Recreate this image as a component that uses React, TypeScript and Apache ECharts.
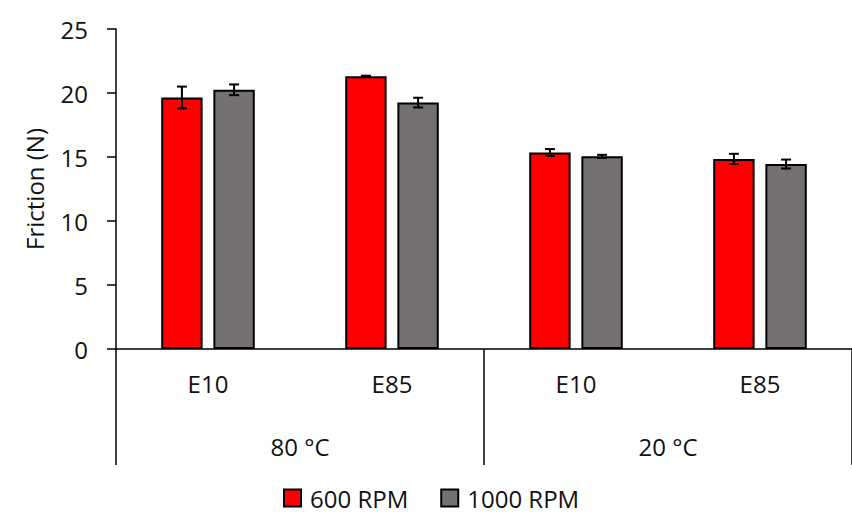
import React, { useEffect, useRef } from "react";
import * as echarts from "echarts";

const fuels = ["E10", "E85", "E10", "E85"];
const temps = ["80 °C", "20 °C"];
const rpm600 = [19.65, 21.3, 15.35, 14.85];
const rpm600Err = [0.85, 0.05, 0.27, 0.4];
const rpm1000 = [20.25, 19.25, 15.05, 14.45];
const rpm1000Err = [0.42, 0.38, 0.12, 0.35];
const seriesNames = ["600 RPM", "1000 RPM"];
const yTicks = { min: 0, max: 25, interval: 5 };

const FONT = "Open Sans";
const BAR_W = 0.225;
const BAR_GAP = 0.26;

function errSeries(values: number[], errs: number[], sign: number) {
  return {
    type: "custom",
    xAxisIndex: 0,
    yAxisIndex: 0,
    z: 10,
    silent: true,
    encode: { x: 0, y: 1 },
    data: values.map((v, i) => [i, v, errs[i]]),
    renderItem: (params: any, api: any) => {
      const x = api.value(0);
      const y = api.value(1);
      const e = api.value(2);
      const band = api.size([1, 0])[0];
      const bw = band * BAR_W;
      const off = ((bw * (1 + BAR_GAP)) / 2) * sign;
      const top = api.coord([x, y + e]);
      const bot = api.coord([x, y - e]);
      const cx = top[0] + off;
      const cap = 5;
      const st = { stroke: "#000", lineWidth: 2 };
      return {
        type: "group",
        children: [
          { type: "line", shape: { x1: cx, y1: top[1], x2: cx, y2: bot[1] }, style: st },
          { type: "line", shape: { x1: cx - cap, y1: top[1], x2: cx + cap, y2: top[1] }, style: st },
          { type: "line", shape: { x1: cx - cap, y1: bot[1], x2: cx + cap, y2: bot[1] }, style: st },
        ],
      };
    },
  };
}

export default function App() {
  const ref = useRef<HTMLDivElement>(null);
  useEffect(() => {
    if (!ref.current) return;
    const chart = echarts.init(ref.current, undefined, { renderer: "svg" });
    chart.setOption({
      animation: false,
      textStyle: { fontFamily: FONT },
      grid: { left: 116, top: 29, bottom: 165, right: -12, containLabel: false },
      legend: {
        data: seriesNames,
        left: 283,
        top: 486,
        padding: 0,
        itemWidth: 17,
        itemHeight: 17,
        itemGap: 32,
        icon: "rect",
        textStyle: { fontFamily: FONT, fontSize: 24, lineHeight: 24, color: "#111", padding: [0, 0, 0, 4] },
      },
      xAxis: [
        {
          type: "category",
          data: fuels,
          position: "bottom",
          axisLine: { show: true, lineStyle: { color: "#000", width: 1.5 } },
          axisTick: { show: false },
          axisLabel: { fontFamily: FONT, fontSize: 24, color: "#111", margin: 22 },
        },
        {
          type: "category",
          data: temps,
          position: "bottom",
          offset: 0,
          axisLine: { show: false },
          axisTick: { show: true, length: 116, lineStyle: { color: "#000", width: 1.5 } },
          axisLabel: { fontFamily: FONT, fontSize: 24, color: "#111", margin: 85 },
        },
      ],
      yAxis: {
        type: "value",
        min: yTicks.min,
        max: yTicks.max,
        interval: yTicks.interval,
        name: "Friction (N)",
        nameLocation: "middle",
        nameGap: 70,
        nameRotate: 90,
        nameTextStyle: { fontFamily: FONT, fontSize: 24, color: "#111" },
        axisLine: { show: true, lineStyle: { color: "#000", width: 1.5 } },
        axisTick: { show: true, length: 9, lineStyle: { color: "#000", width: 1.5 } },
        splitLine: { show: false },
        axisLabel: { fontFamily: FONT, fontSize: 24, color: "#111", margin: 28 },
      },
      series: [
        {
          name: seriesNames[0],
          type: "bar",
          data: rpm600,
          barWidth: BAR_W * 100 + "%",
          barGap: BAR_GAP * 100 + "%",
          itemStyle: { color: "#FF0000", borderColor: "#000", borderWidth: 2 },
        },
        {
          name: seriesNames[1],
          type: "bar",
          data: rpm1000,
          barWidth: BAR_W * 100 + "%",
          barGap: BAR_GAP * 100 + "%",
          itemStyle: { color: "#767171", borderColor: "#000", borderWidth: 2 },
        },
        errSeries(rpm600, rpm600Err, -1),
        errSeries(rpm1000, rpm1000Err, 1),
      ],
    });
    return () => chart.dispose();
  }, []);
  return <div ref={ref} style={{ width: 852, height: 514, position: "absolute", left: 0, top: 0 }} />;
}
